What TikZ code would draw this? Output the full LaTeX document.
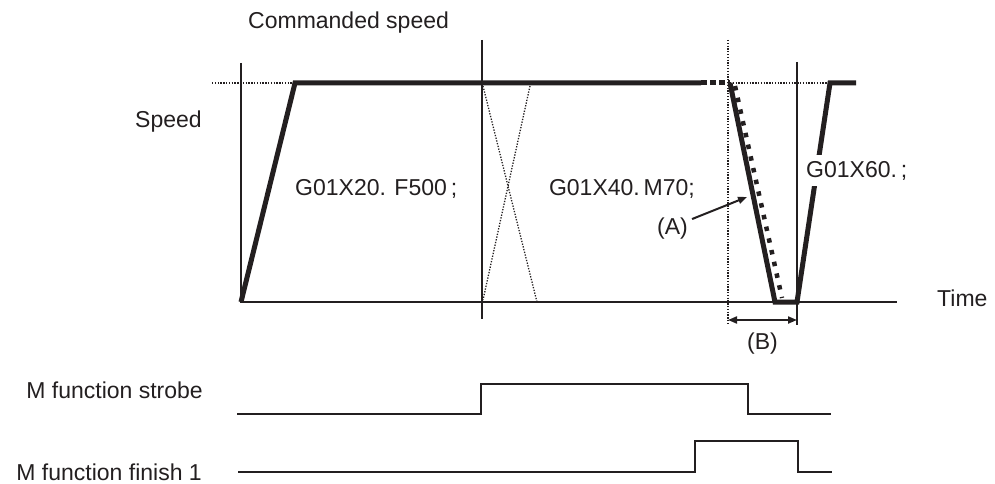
\documentclass[tikz,border=0pt]{standalone}
\usepackage{fontspec}
\setmainfont{Liberation Sans}
\usetikzlibrary{arrows.meta}
\definecolor{ink}{RGB}{35,31,32}
\begin{document}
\begin{tikzpicture}[x=1pt,y=-1pt,
  lbl/.style={text=ink, font=\fontsize{23}{27}\selectfont, inner sep=0pt},
  thinln/.style={draw=ink, line width=1.5pt},
  sig/.style={draw=ink, line width=2pt},
  thickln/.style={draw=ink, line width=5pt, line join=miter},
  finedots/.style={draw=ink, line width=1.3pt, dash pattern=on 1.3pt off 1.5pt},
  sqdots/.style={draw=ink, line width=4.5pt, dash pattern=on 4.5pt off 7.5pt},
  arr/.style={draw=ink, line width=2pt, -{Triangle[length=9pt,width=7pt]}},
  darr/.style={draw=ink, line width=2pt, {Triangle[length=9pt,width=7pt]}-{Triangle[length=9pt,width=7pt]}}]
\useasboundingbox (0,0) rectangle (995,484);

% coordinates
\coordinate (o) at (241,302);
\coordinate (ytop) at (241,63);
\coordinate (xend) at (897,302);
\coordinate (v1t) at (482,40);
\coordinate (v1b) at (482,319);
\coordinate (v2t) at (728,40);
\coordinate (v2b) at (728,325);
\coordinate (v3t) at (797,62);
\coordinate (v3b) at (797,325);

% axes and vertical lines
\draw[thinln] (ytop) -- (o) -- (xend);
\draw[thinln] (v1t) -- (v1b);
\draw[finedots] (v2t) -- (v2b);
\draw[thinln] (v3t) -- (v3b);

% dotted guides
\draw[finedots] (212,83) -- (295,83);
\draw[finedots] (730,83) -- (830,83);
\draw[finedots] (483,86) -- (537,302);
\draw[finedots] (530,86) -- (483,300);

% speed profile
\draw[thickln] (241,302) -- (295,83) -- (701,83);
\draw[draw=ink, line width=5pt, dash pattern=on 6pt off 3pt] (701,83) -- (730,83);
\draw[thickln] (730,83) -- (775,302) -- (797,302) -- (830,83) -- (856,83);
\draw[sqdots] (735,86) -- (782,298);

% texts
\node[lbl, anchor=base west] (cmd) at (248,28.5) {Commanded speed};
\node[lbl, anchor=base west] (spd) at (135,127.5) {Speed};
\node[lbl, anchor=base west] (g1) at (295,195) {G01X20. F500\,;};
\node[lbl, anchor=base east] (g2) at (695,195) {G01X40.\,M70;};
\node[lbl, anchor=base west, fill=white, inner ysep=6pt, inner xsep=1pt] (g3) at (805,177) {G01X60.\,;};
\node[lbl, anchor=base west] (time) at (937,306) {Time};
\node[lbl, anchor=base west] (A) at (657,234) {(A)};
\node[lbl, anchor=base west] (B) at (747,349) {(B)};
\node[lbl, anchor=base east] (ms) at (203,398) {M function strobe};
\node[lbl, anchor=base east] (mf) at (202,480) {M function finish 1};

% arrows
\coordinate (Atip) at (747,197);
\draw[arr] (A.east) ++(4,-9) -- (Atip);
\draw[darr] (v2b |- 0,320) -- (v3b |- 0,320);

% signals
\draw[sig] (237,414) -- (481,414) -- (481,384) -- (748,384) -- (748,414) -- (831,414);
\draw[sig] (238,472) -- (695,472) -- (695,441) -- (798,441) -- (798,472) -- (832,472);
\end{tikzpicture}
\end{document}
